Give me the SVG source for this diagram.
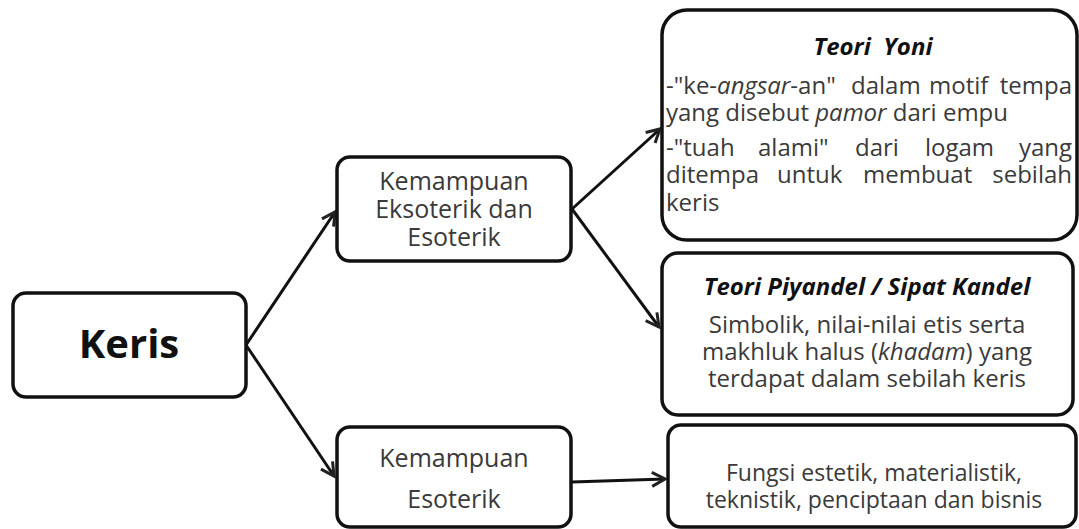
<svg xmlns="http://www.w3.org/2000/svg" width="1079" height="529" viewBox="0 0 1079 529">
<defs>
<style>
.box{fill:#fff;stroke:#111;stroke-width:3.5}
.conn{stroke:#111;stroke-width:3;fill:none}
.t{font-family:"Open Sans","Noto Sans",sans-serif;font-size:24px;fill:#3a3a3a}
.s{font-size:23px}
.c{text-anchor:middle}
.e{text-anchor:end}
.h{font-family:"Open Sans","Noto Sans",sans-serif;font-size:24px;font-weight:bold;font-style:italic;fill:#111;text-anchor:middle;white-space:pre}
.k{font-family:"Open Sans","Noto Sans",sans-serif;font-size:25px;fill:#3a3a3a;text-anchor:middle}
.i{font-style:italic}
</style>
<marker id="arr" viewBox="-15 -9 18 18" refX="0" refY="0" markerWidth="18" markerHeight="18" markerUnits="userSpaceOnUse" orient="auto">
<path d="M-13,-7 L0,0 L-13,7" fill="none" stroke="#222" stroke-width="3" stroke-linejoin="miter"/>
</marker>
</defs>
<rect width="1079" height="529" fill="#fff"/>
<g id="connectors">
<line class="conn" x1="246" y1="345" x2="335" y2="212" marker-end="url(#arr)"/>
<line class="conn" x1="246" y1="345" x2="334" y2="476" marker-end="url(#arr)"/>
<line class="conn" x1="572" y1="209" x2="660" y2="129" marker-end="url(#arr)"/>
<line class="conn" x1="572" y1="209" x2="659" y2="327" marker-end="url(#arr)"/>
<line class="conn" x1="572" y1="482" x2="665" y2="479" marker-end="url(#arr)"/>
</g>
<g id="keris">
<rect class="box" x="13" y="293" width="233" height="104" rx="13"/>
<text x="129" y="358" font-family="'Open Sans','Noto Sans',sans-serif" font-size="40" font-weight="bold" fill="#111" text-anchor="middle">Keris</text>
</g>
<g id="eksoterik-esoterik">
<rect class="box" x="337" y="157" width="234" height="104" rx="13"/>
<text class="k" x="454" y="190">Kemampuan</text>
<text class="k" x="454" y="218">Eksoterik dan</text>
<text class="k" x="454" y="246">Esoterik</text>
</g>
<g id="esoterik">
<rect class="box" x="337" y="427" width="234" height="100" rx="13"/>
<text class="k" x="454" y="467">Kemampuan</text>
<text class="k" x="454" y="508">Esoterik</text>
</g>
<g id="teori-yoni">
<rect class="box" x="662" y="10" width="415" height="230" rx="25"/>
<text class="h" x="873" y="55" xml:space="preserve">Teori  Yoni</text>
<text class="t" x="666" y="94">-"ke-<tspan class="i">angsar</tspan>-an"</text>
<text class="t" x="851" y="94">dalam</text>
<text class="t" x="929" y="94">motif</text>
<text class="t e" x="1072" y="94">tempa</text>
<text class="t" x="666" y="121">yang disebut <tspan class="i">pamor</tspan> dari empu</text>
<text class="t" x="666" y="156">-"tuah</text>
<text class="t" x="758" y="156">alami"</text>
<text class="t" x="855" y="156">dari</text>
<text class="t" x="925" y="156">logam</text>
<text class="t e" x="1072" y="156">yang</text>
<text class="t" x="666" y="183">ditempa</text>
<text class="t" x="777" y="183">untuk</text>
<text class="t" x="863" y="183">membuat</text>
<text class="t e" x="1072" y="183">sebilah</text>
<text class="t" x="666" y="211">keris</text>
</g>
<g id="teori-piyandel">
<rect class="box" x="662" y="253" width="411" height="162" rx="16"/>
<text class="h" x="867" y="295">Teori Piyandel / Sipat Kandel</text>
<text class="t c" x="867" y="333">Simbolik, nilai-nilai etis serta</text>
<text class="t c" x="867" y="360">makhluk halus (<tspan class="i">khadam</tspan>) yang</text>
<text class="t c" x="867" y="387">terdapat dalam sebilah keris</text>
</g>
<g id="fungsi">
<rect class="box" x="668" y="425" width="408" height="102" rx="13"/>
<text class="t s c" x="874" y="481">Fungsi estetik, materialistik,</text>
<text class="t s c" x="874" y="508">teknistik, penciptaan dan bisnis</text>
</g>
</svg>
